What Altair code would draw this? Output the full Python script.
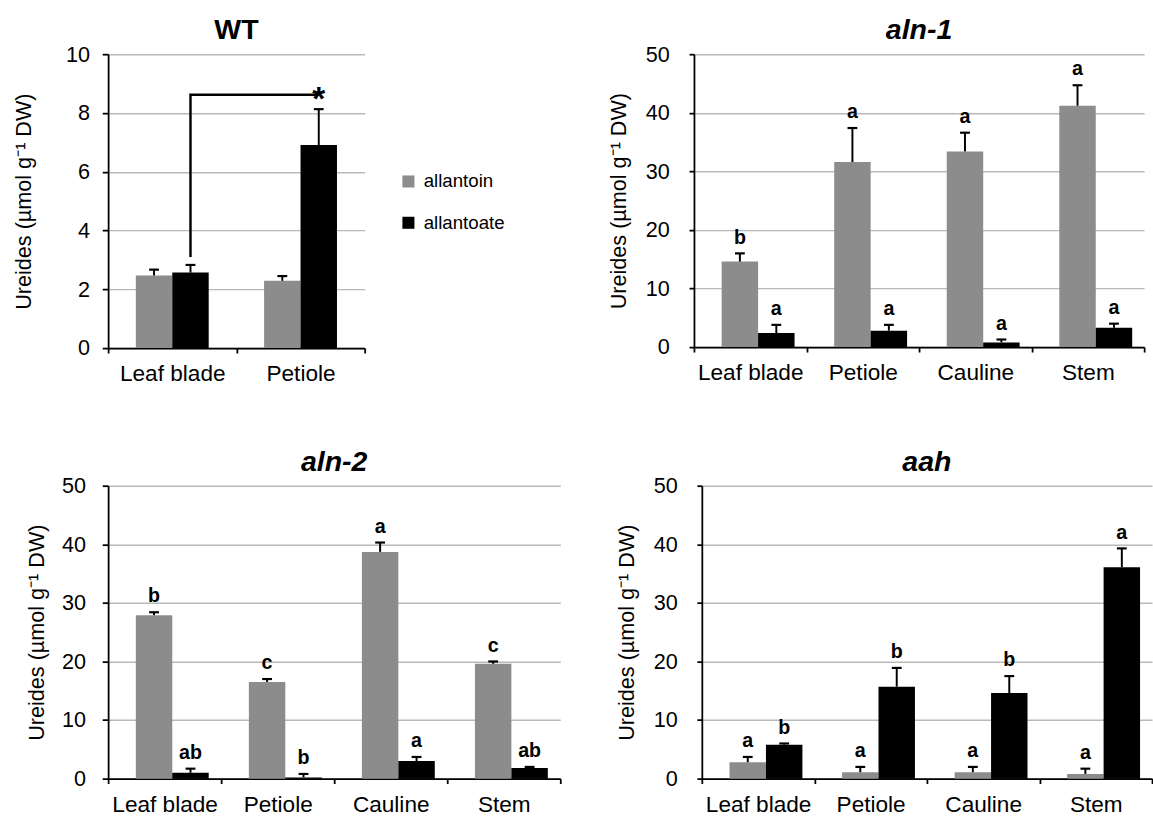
import altair as alt
import pandas as pd

FONT = "Liberation Sans"
GRAY = "#8c8c8c"
BLACK = "#000000"
Y_TITLE = "Ureides (µmol g⁻¹ DW)"

compounds = ["allantoin", "allantoate"]
tissues_wt = ["Leaf blade", "Petiole"]
tissues = ["Leaf blade", "Petiole", "Cauline", "Stem"]

# WT
wt_allantoin = [2.47, 2.29]
wt_allantoin_hi = [2.67, 2.45]
wt_allantoate = [2.57, 6.91]
wt_allantoate_hi = [2.83, 8.13]
wt_bracket_tissue = ["Leaf blade", "Leaf blade", "Petiole"]
wt_bracket_y = [3.1, 8.62, 8.62]
wt_star = ["*"]

# aln-1
aln1_allantoin = [14.6, 31.6, 33.4, 41.2]
aln1_allantoin_hi = [16.0, 37.4, 36.6, 44.7]
aln1_allantoin_let = ["b", "a", "a", "a"]
aln1_allantoate = [2.4, 2.8, 0.8, 3.3]
aln1_allantoate_hi = [3.8, 3.8, 1.3, 4.0]
aln1_allantoate_let = ["a", "a", "a", "a"]

# aln-2
aln2_allantoin = [27.9, 16.5, 38.7, 19.6]
aln2_allantoin_hi = [28.4, 17.0, 40.3, 20.0]
aln2_allantoin_let = ["b", "c", "a", "c"]
aln2_allantoate = [1.0, 0.2, 3.0, 1.8]
aln2_allantoate_hi = [1.7, 0.8, 3.7, 2.0]
aln2_allantoate_let = ["ab", "b", "a", "ab"]

# aah
aah_allantoin = [2.8, 1.1, 1.1, 0.8]
aah_allantoin_hi = [3.7, 2.0, 2.0, 1.7]
aah_allantoin_let = ["a", "a", "a", "a"]
aah_allantoate = [5.8, 15.7, 14.6, 36.1]
aah_allantoate_hi = [6.0, 18.9, 17.5, 39.3]
aah_allantoate_let = ["b", "b", "b", "a"]


def make_df(tis, a, ahi, alet, b, bhi, blet):
    rows = []
    for i, t in enumerate(tis):
        rows.append(dict(tissue=t, compound="allantoin", value=a[i], hi=ahi[i],
                         letter=alet[i] if alet else ""))
        rows.append(dict(tissue=t, compound="allantoate", value=b[i], hi=bhi[i],
                         letter=blet[i] if blet else ""))
    return pd.DataFrame(rows)


def panel(df, tis, title, italic, ymax, ystep, width, height,
          tick_size, label_pad, title_pad, legend=None, extra=None):
    x = alt.X("tissue:N", sort=tis,
              scale=alt.Scale(paddingInner=0, paddingOuter=0),
              axis=alt.Axis(title=None, labelAngle=0, tickBand="extent",
                            labelFontSize=23, labelFont=FONT, labelColor="black",
                            labelPadding=10, tickSize=5, tickColor="black",
                            tickWidth=1.8, domainColor="black", domainWidth=1.8,
                            grid=False))
    xo = alt.XOffset("compound:N", sort=compounds,
                     scale=alt.Scale(domain=compounds, paddingOuter=0.76, paddingInner=0))
    yaxis = alt.Axis(values=list(range(0, ymax + 1, ystep)), title=Y_TITLE,
                     titleFont=FONT, titleFontSize=22, titleFontWeight="normal",
                     titleColor="black", titlePadding=title_pad,
                     labelFont=FONT, labelFontSize=22, labelColor="black",
                     labelPadding=label_pad, tickSize=tick_size, tickColor="black",
                     tickWidth=1.8, domainColor="black", domainWidth=1.8,
                     grid=True, gridColor="#b9b9b9", gridWidth=1.5)
    yscale = alt.Scale(domain=[0, ymax], nice=False)
    color = alt.Color("compound:N", sort=compounds,
                      scale=alt.Scale(domain=compounds, range=[GRAY, BLACK]),
                      legend=legend)
    base = alt.Chart(df)
    bars = base.mark_bar().encode(
        x=x, xOffset=xo, y=alt.Y("value:Q", scale=yscale, axis=yaxis), color=color)
    err = base.mark_rule(color="black", strokeWidth=2).encode(
        x=x, xOffset=xo, y=alt.Y("value:Q", scale=yscale, axis=yaxis), y2="hi:Q")
    cap = base.mark_tick(color="black", thickness=2.2, size=10, opacity=1).encode(
        x=x, xOffset=xo, y=alt.Y("hi:Q", scale=yscale, axis=yaxis))
    lets = base.mark_text(baseline="bottom", dy=-6, fontWeight="bold", fontSize=20,
                          font=FONT, color="black").encode(
        x=x, xOffset=xo, y=alt.Y("hi:Q", scale=yscale, axis=yaxis), text="letter:N")
    layers = [bars, err, cap, lets]
    if extra is not None:
        layers += extra(x, xo, yscale, yaxis)
    return alt.layer(*layers).properties(
        width=width, height=height,
        title=alt.TitleParams(text=title, font=FONT, fontSize=29, fontWeight="bold",
                              fontStyle="italic" if italic else "normal",
                              color="black", offset=-2))


def wt_extra(x, xo, yscale, yaxis):
    bdf = pd.DataFrame(dict(tissue=wt_bracket_tissue,
                            compound=["allantoate"] * 3,
                            y=wt_bracket_y, order=[0, 1, 2]))
    line = alt.Chart(bdf).mark_line(color="black", strokeWidth=2.5).encode(
        x=x, xOffset=xo, y=alt.Y("y:Q", scale=yscale, axis=yaxis), order="order:Q")
    sdf = pd.DataFrame(dict(tissue=["Petiole"], compound=["allantoate"],
                            y=[wt_bracket_y[-1]], s=wt_star))
    star = alt.Chart(sdf).mark_text(fontSize=34, fontWeight="bold", font=FONT,
                                    baseline="middle", dy=6, color="black").encode(
        x=x, xOffset=xo, y=alt.Y("y:Q", scale=yscale, axis=yaxis), text="s:N")
    return [line, star]


wt_legend = alt.Legend(orient="none", legendX=296, legendY=120, title=None,
                       symbolType="square", symbolSize=150, symbolStrokeWidth=0,
                       labelFont=FONT, labelFontSize=19, labelColor="black",
                       rowPadding=22, labelOffset=6)

wt = panel(make_df(tissues_wt, wt_allantoin, wt_allantoin_hi, None,
                   wt_allantoate, wt_allantoate_hi, None),
           tissues_wt, "WT", False, 10, 2, 261, 299, 6, 13, 31,
           legend=wt_legend, extra=wt_extra)
aln1 = panel(make_df(tissues, aln1_allantoin, aln1_allantoin_hi, aln1_allantoin_let,
                     aln1_allantoate, aln1_allantoate_hi, aln1_allantoate_let),
             tissues, "aln-1", True, 50, 10, 458, 298, 5, 20, 15)
aln2 = panel(make_df(tissues, aln2_allantoin, aln2_allantoin_hi, aln2_allantoin_let,
                     aln2_allantoate, aln2_allantoate_hi, aln2_allantoate_let),
             tissues, "aln-2", True, 50, 10, 460, 298, 6, 17, 13)
aah = panel(make_df(tissues, aah_allantoin, aah_allantoin_hi, aah_allantoin_let,
                    aah_allantoate, aah_allantoate_hi, aah_allantoate_let),
            tissues, "aah", True, 50, 10, 458, 298, 5, 20, 15)

top = alt.hconcat(wt, aln1, spacing=246)
bottom = alt.hconcat(aln2, aah, spacing=55)
chart = alt.vconcat(top, bottom, spacing=64).resolve_scale(color="independent").properties(
    padding={"left": 12, "top": 10, "right": 0, "bottom": 0}
).configure_view(stroke=None)

chart.save("out.html", embed_options={"renderer": "svg", "actions": False})
